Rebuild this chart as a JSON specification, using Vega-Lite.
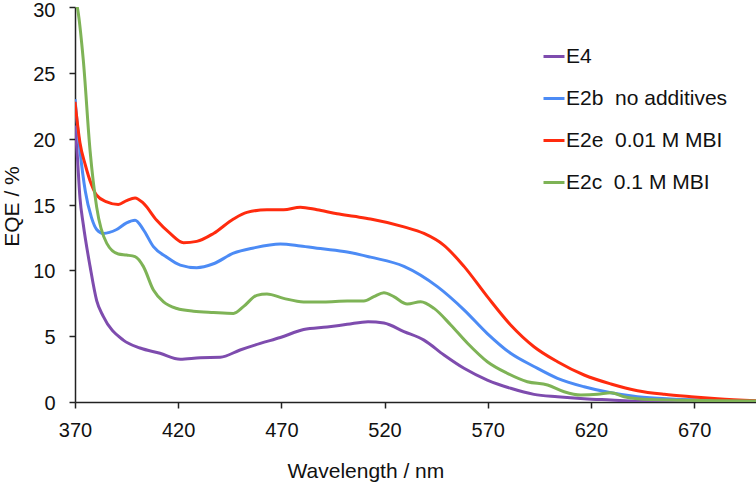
{
  "$schema": "https://vega.github.io/schema/vega-lite/v6.json",
  "width": 681,
  "height": 395,
  "autosize": "none",
  "padding": {"left": 75, "top": 7, "right": 0, "bottom": 80},
  "background": "white",
  "config": {
    "view": {"stroke": null},
    "font": "Liberation Sans",
    "axis": {"grid": false, "domainColor": "#222", "tickColor": "#222", "domainWidth": 1.5, "tickWidth": 1.5, "labelColor": "#111", "titleColor": "#111", "labelFont": "Liberation Sans", "titleFont": "Liberation Sans", "titleFontWeight": "normal"}
  },
  "data": {"values": [
    {"s":"E4","wl":370,"v":21.0},{"s":"E4","wl":371,"v":19.0},{"s":"E4","wl":372.4,"v":15.5},{"s":"E4","wl":374,"v":13.5},{"s":"E4","wl":377.3,"v":10.3},{"s":"E4","wl":380.5,"v":7.7},{"s":"E4","wl":383.7,"v":6.5},{"s":"E4","wl":393.4,"v":4.7},{"s":"E4","wl":401.5,"v":4.1},{"s":"E4","wl":411.2,"v":3.7},{"s":"E4","wl":421,"v":3.25},{"s":"E4","wl":430.7,"v":3.37},{"s":"E4","wl":440.4,"v":3.4},{"s":"E4","wl":450,"v":3.95},{"s":"E4","wl":459.8,"v":4.45},{"s":"E4","wl":469.5,"v":4.9},{"s":"E4","wl":480.8,"v":5.5},{"s":"E4","wl":492.2,"v":5.7},{"s":"E4","wl":501.9,"v":5.9},{"s":"E4","wl":512,"v":6.1},{"s":"E4","wl":519.7,"v":6.0},{"s":"E4","wl":529.4,"v":5.35},{"s":"E4","wl":539.1,"v":4.7},{"s":"E4","wl":548.8,"v":3.57},{"s":"E4","wl":558.5,"v":2.56},{"s":"E4","wl":569.8,"v":1.67},{"s":"E4","wl":581.1,"v":1.04},{"s":"E4","wl":592.4,"v":0.58},{"s":"E4","wl":603.8,"v":0.4},{"s":"E4","wl":616.7,"v":0.25},{"s":"E4","wl":629.7,"v":0.15},{"s":"E4","wl":642.6,"v":0.05},{"s":"E4","wl":700,"v":0.02},

    {"s":"E2b","wl":370,"v":23.0},{"s":"E2b","wl":372.4,"v":19.1},{"s":"E2b","wl":375,"v":16.0},{"s":"E2b","wl":378,"v":14.0},{"s":"E2b","wl":380.5,"v":13.1},{"s":"E2b","wl":383.7,"v":12.8},{"s":"E2b","wl":390.2,"v":13.1},{"s":"E2b","wl":395,"v":13.6},{"s":"E2b","wl":399.1,"v":13.8},{"s":"E2b","wl":403.1,"v":13.1},{"s":"E2b","wl":408,"v":11.8},{"s":"E2b","wl":414.5,"v":11.0},{"s":"E2b","wl":421,"v":10.4},{"s":"E2b","wl":429,"v":10.2},{"s":"E2b","wl":437.1,"v":10.5},{"s":"E2b","wl":446.8,"v":11.3},{"s":"E2b","wl":456.5,"v":11.7},{"s":"E2b","wl":469.5,"v":12.0},{"s":"E2b","wl":479.2,"v":11.85},{"s":"E2b","wl":488.9,"v":11.65},{"s":"E2b","wl":501.9,"v":11.4},{"s":"E2b","wl":513.2,"v":11.0},{"s":"E2b","wl":529.4,"v":10.3},{"s":"E2b","wl":545.6,"v":8.76},{"s":"E2b","wl":558.5,"v":7.0},{"s":"E2b","wl":569.8,"v":5.2},{"s":"E2b","wl":581.1,"v":3.7},{"s":"E2b","wl":592.4,"v":2.7},{"s":"E2b","wl":603.8,"v":1.8},{"s":"E2b","wl":616.7,"v":1.16},{"s":"E2b","wl":629.7,"v":0.7},{"s":"E2b","wl":642.6,"v":0.4},{"s":"E2b","wl":658.8,"v":0.23},{"s":"E2b","wl":675,"v":0.15},{"s":"E2b","wl":700,"v":0.05},

    {"s":"E2e","wl":370,"v":22.8},{"s":"E2e","wl":372.4,"v":19.7},{"s":"E2e","wl":375,"v":18.0},{"s":"E2e","wl":378,"v":16.5},{"s":"E2e","wl":380.5,"v":15.7},{"s":"E2e","wl":385.4,"v":15.2},{"s":"E2e","wl":391,"v":15.0},{"s":"E2e","wl":395,"v":15.3},{"s":"E2e","wl":399.1,"v":15.5},{"s":"E2e","wl":403.1,"v":15.1},{"s":"E2e","wl":409.6,"v":13.8},{"s":"E2e","wl":416.1,"v":12.8},{"s":"E2e","wl":422.6,"v":12.1},{"s":"E2e","wl":429,"v":12.2},{"s":"E2e","wl":437.1,"v":12.8},{"s":"E2e","wl":446.8,"v":13.9},{"s":"E2e","wl":453.3,"v":14.4},{"s":"E2e","wl":463,"v":14.6},{"s":"E2e","wl":471.1,"v":14.6},{"s":"E2e","wl":479.2,"v":14.8},{"s":"E2e","wl":487.3,"v":14.6},{"s":"E2e","wl":497,"v":14.3},{"s":"E2e","wl":505.1,"v":14.1},{"s":"E2e","wl":513.2,"v":13.9},{"s":"E2e","wl":529.4,"v":13.3},{"s":"E2e","wl":539.1,"v":12.8},{"s":"E2e","wl":548.8,"v":11.9},{"s":"E2e","wl":558.5,"v":10.3},{"s":"E2e","wl":569.8,"v":8.0},{"s":"E2e","wl":581.1,"v":5.85},{"s":"E2e","wl":592.4,"v":4.2},{"s":"E2e","wl":603.8,"v":3.06},{"s":"E2e","wl":616.7,"v":2.05},{"s":"E2e","wl":629.7,"v":1.37},{"s":"E2e","wl":642.6,"v":0.86},{"s":"E2e","wl":655.6,"v":0.58},{"s":"E2e","wl":668.5,"v":0.4},{"s":"E2e","wl":681.4,"v":0.25},{"s":"E2e","wl":700,"v":0.1},

    {"s":"E2c","wl":370,"v":30.6},{"s":"E2c","wl":371.1,"v":30.0},{"s":"E2c","wl":374,"v":26.0},{"s":"E2c","wl":377.3,"v":19.1},{"s":"E2c","wl":380.5,"v":14.8},{"s":"E2c","wl":385.4,"v":12.05},{"s":"E2c","wl":391,"v":11.24},{"s":"E2c","wl":395,"v":11.16},{"s":"E2c","wl":399.1,"v":11.04},{"s":"E2c","wl":403.1,"v":10.3},{"s":"E2c","wl":408,"v":8.5},{"s":"E2c","wl":412.9,"v":7.6},{"s":"E2c","wl":419.4,"v":7.1},{"s":"E2c","wl":427.4,"v":6.9},{"s":"E2c","wl":437.1,"v":6.8},{"s":"E2c","wl":446.8,"v":6.73},{"s":"E2c","wl":451.6,"v":7.24},{"s":"E2c","wl":458.1,"v":8.1},{"s":"E2c","wl":463,"v":8.2},{"s":"E2c","wl":471.1,"v":7.87},{"s":"E2c","wl":480.8,"v":7.6},{"s":"E2c","wl":490.5,"v":7.6},{"s":"E2c","wl":501.9,"v":7.67},{"s":"E2c","wl":510,"v":7.67},{"s":"E2c","wl":514.8,"v":8.0},{"s":"E2c","wl":519.7,"v":8.3},{"s":"E2c","wl":524.5,"v":8.0},{"s":"E2c","wl":531,"v":7.44},{"s":"E2c","wl":537.5,"v":7.62},{"s":"E2c","wl":544,"v":7.11},{"s":"E2c","wl":552.1,"v":5.85},{"s":"E2c","wl":560.2,"v":4.46},{"s":"E2c","wl":569.8,"v":3.06},{"s":"E2c","wl":579.5,"v":2.18},{"s":"E2c","wl":589.2,"v":1.54},{"s":"E2c","wl":599,"v":1.29},{"s":"E2c","wl":607,"v":0.78},{"s":"E2c","wl":615.1,"v":0.53},{"s":"E2c","wl":623.2,"v":0.58},{"s":"E2c","wl":629.7,"v":0.71},{"s":"E2c","wl":636.1,"v":0.4},{"s":"E2c","wl":642.6,"v":0.25},{"s":"E2c","wl":658.8,"v":0.15},{"s":"E2c","wl":700,"v":0.08}
  ]},
  "mark": {"type": "line", "strokeWidth": 3, "interpolate": "monotone", "clip": true},
  "encoding": {
    "x": {"field": "wl", "type": "quantitative",
      "scale": {"domain": [370, 700], "nice": false, "zero": false},
      "axis": {"values": [370, 420, 470, 520, 570, 620, 670], "title": "Wavelength / nm", "labelFontSize": 20, "titleFontSize": 21, "tickSize": 6, "labelPadding": 12, "titleAnchor": "start", "titleX": 212, "titleY": 75, "titleBaseline": "alphabetic", "labelFlush": false}},
    "y": {"field": "v", "type": "quantitative",
      "scale": {"domain": [0, 30], "nice": false},
      "axis": {"values": [0, 5, 10, 15, 20, 25, 30], "title": "EQE / %", "labelFontSize": 20, "titleFontSize": 21, "tickSize": 6, "labelPadding": 14, "labelOffset": {"condition": {"test": "datum.value == 30", "value": 3.5}, "value": 1.5}, "titleAnchor": "middle", "titleAngle": -90, "titleX": -57, "titleY": 199, "titleAlign": "center", "titleBaseline": "alphabetic", "labelFlush": false}},
    "color": {"field": "s", "type": "nominal",
      "scale": {"domain": ["E4", "E2b", "E2e", "E2c"], "range": ["#7E4CAE", "#4C8BF5", "#FF2B0E", "#7EB356"]},
      "legend": {"title": null, "orient": "none", "legendX": 467, "legendY": 37.5, "symbolType": "stroke", "symbolSize": 441, "symbolStrokeWidth": 3, "labelFontSize": 21, "labelLimit": 400, "labelColor": "#111", "labelFont": "Liberation Sans", "labelOffset": 0, "rowPadding": 20, "padding": 0,
        "labelExpr": "datum.label == 'E4' ? 'E4' : datum.label == 'E2b' ? 'E2b\u00a0 no additives' : datum.label == 'E2e' ? 'E2e\u00a0 0.01 M MBI' : 'E2c\u00a0 0.1 M MBI'"}}
  }
}
